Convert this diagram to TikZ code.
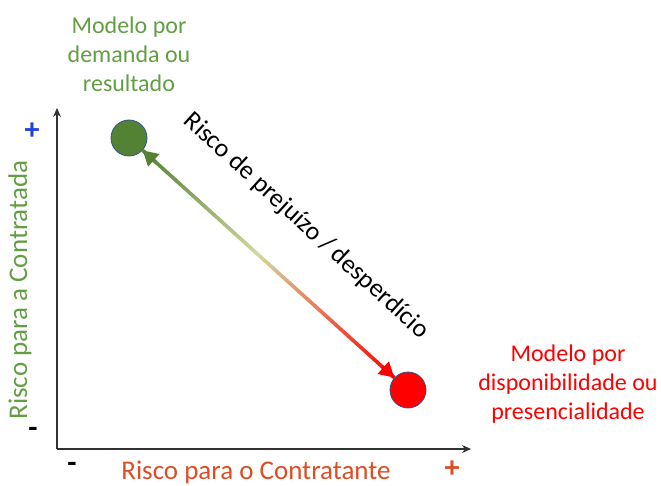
\documentclass[tikz,border=0pt]{standalone}
\usepackage{fontspec}
\setmainfont{Carlito}
\usetikzlibrary{arrows.meta,calc}

\definecolor{dkgreen}{RGB}{84,130,53}
\definecolor{txgreen}{RGB}{98,158,68}
\definecolor{txorange}{RGB}{222,76,34}
\definecolor{pale}{RGB}{212,216,160}
\definecolor{ringblue}{RGB}{47,82,143}
\definecolor{plusblue}{RGB}{32,64,220}
\definecolor{axisgray}{RGB}{50,50,50}

\tikzset{sign/.style={font=\bfseries\fontsize{30}{32}\selectfont, inner sep=0pt}}

\begin{document}
\begin{tikzpicture}[x=1pt, y=-1pt, thick]
	\useasboundingbox (0,0) rectangle (661,486);

	% Axes
	\coordinate (orig) at (57,449);
	\coordinate (ytop) at (57,108);
	\coordinate (xend) at (471,449);
	\draw [axisgray, line width=1.3pt, -{Stealth[length=9pt,width=8pt]}] (orig) -- (ytop);
	\draw [axisgray, line width=1.3pt, -{Stealth[length=9pt,width=8pt]}] (orig) -- (xend);

	% Axis labels and signs
	\node (xlabel) at (256,472) [txorange, font=\fontsize{27}{32}\selectfont] {Risco para o Contratante};
	\node (ylabel) at (20,290) [txgreen, rotate=90, font=\fontsize{27}{32}\selectfont] {Risco para a Contratada};
	\node (yplus) at (32,131) [plusblue, sign] {+};
	\node (yminus) at (33,432) [sign] {-};
	\node (xminus) at (72,467) [sign] {-};
	\node (xplus) at (452,469) [txorange, sign] {+};

	% Models
	\node (gbol) at (129,138) [circle, minimum size=36pt, inner sep=0pt, fill=dkgreen, draw=ringblue, line width=0.8pt] {};
	\node (rbol) at (408,390) [circle, minimum size=36pt, inner sep=0pt, fill=red, draw=ringblue, line width=0.8pt] {};
	\node (gtext) at (129,54) [txgreen, align=center, font=\fontsize{24}{29}\selectfont] {Modelo por\\demanda ou\\resultado};
	\node (rtext) at (568,384) [red, align=center, font=\fontsize{24}{29}\selectfont] {Modelo por\\disponibilidade ou\\presencialidade};

	% Gradient arrow between the models
	\path (gbol) -- (rbol) coordinate[pos=0] (gtip) coordinate[pos=1] (rtip);
	\foreach \i in {0,...,26}{
		\pgfmathtruncatemacro{\p}{100*\i/27}
		\draw [pale!\p!dkgreen, line width=3.6pt] ($(gtip)!\i/60!(rtip)$) -- ($(gtip)!\i/60+1/55!(rtip)$);
	}
	\foreach \i in {27,...,59}{
		\pgfmathtruncatemacro{\p}{100*(\i-27)/32}
		\draw [red!\p!pale, line width=3.6pt] ($(gtip)!\i/60!(rtip)$) -- ($(gtip)!min(1,\i/60+1/55)!(rtip)$);
	}
	\draw [dkgreen, line width=3.6pt, -{Triangle[length=15pt,width=16pt]}] ($(gtip)!16pt!(rtip)$) -- (gtip);
	\draw [red, line width=3.6pt, -{Triangle[length=15pt,width=16pt]}] ($(rtip)!16pt!(gtip)$) -- (rtip);

	% Risk label
	\node (risco) at (306,226) [rotate=-42.4, font=\fontsize{26}{30}\selectfont] {Risco de prejuízo / desperdício};

\end{tikzpicture}
\end{document}
